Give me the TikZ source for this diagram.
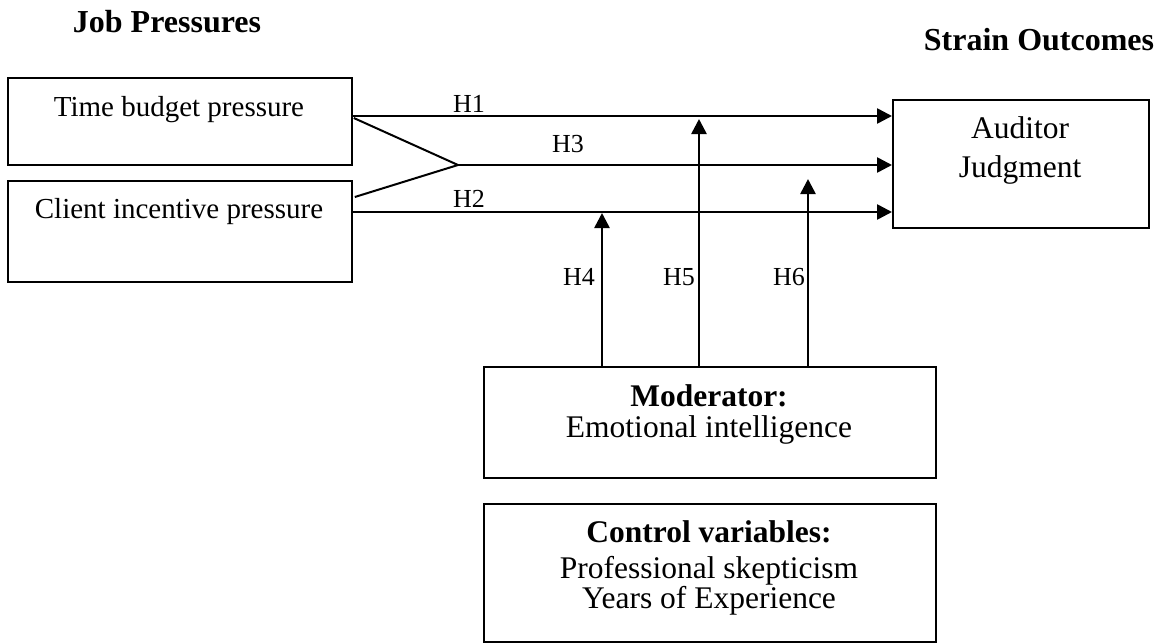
\documentclass[tikz,border=0pt]{standalone}
\usepackage{fontspec}
\setmainfont{Liberation Serif}
\usetikzlibrary{arrows.meta,calc}
\begin{document}
\begin{tikzpicture}[x=1pt,y=-1pt,
  box/.style={draw, line width=1.8pt, inner sep=0pt, anchor=north west},
  conn/.style={line width=2.6pt, -{Triangle[length=15pt,width=15pt]}},
  plain/.style={line width=2pt},
  lbl/.style={inner sep=0pt, anchor=base, font=\fontsize{26}{30}\selectfont},
  txtA/.style={inner sep=0pt, anchor=base, font=\fontsize{29}{33}\selectfont},
  txtB/.style={inner sep=0pt, anchor=base, font=\fontsize{31.5}{36}\selectfont},
  head/.style={inner sep=0pt, anchor=base, font=\bfseries\fontsize{32}{36}\selectfont},
]
\useasboundingbox (0,0) rectangle (1160,643);

% boxes
\node[box, minimum width=344pt, minimum height=87pt]  (tbp) at (7,77) {};
\node[box, minimum width=344pt, minimum height=101pt] (cip) at (7,180) {};
\node[box, minimum width=256pt, minimum height=128pt] (aj)  at (892,99) {};
\node[box, minimum width=452pt, minimum height=111pt] (mod) at (483,366) {};
\node[box, minimum width=452pt, minimum height=138pt] (ctl) at (483,503) {};

% texts
\node[head] (hjob) at (167,32) {Job Pressures};
\node[head] (hstr) at (1039,50) {Strain Outcomes};
\node[txtA] (ttbp) at (179,116) {Time budget pressure};
\node[txtA] (tcip) at (179,218) {Client incentive pressure};
\node[txtB] (taj1) at (1020,138) {Auditor};
\node[txtB] (taj2) at (1020,177) {Judgment};
\node[txtB, font=\bfseries\fontsize{31.5}{36}\selectfont] (tmod1) at (709,406) {Moderator:};
\node[txtB] (tmod2) at (709,437) {Emotional intelligence};
\node[txtB, font=\bfseries\fontsize{31.5}{36}\selectfont] (tctl1) at (709,542) {Control variables:};
\node[txtB] (tctl2) at (709,578) {Professional skepticism};
\node[txtB] (tctl3) at (709,608) {Years of Experience};

% hypothesis labels
\node[lbl] (h1) at (469,112) {H1};
\node[lbl] (h3) at (568,152) {H3};
\node[lbl] (h2) at (469,207) {H2};
\node[lbl] (h4) at (579,285) {H4};
\node[lbl] (h5) at (679,285) {H5};
\node[lbl] (h6) at (789,285) {H6};

% connectors
\coordinate (apex) at (458,165);
\draw[plain] ($(tbp.north east)+(1,41)$) -- (apex) -- ($(cip.north east)+(2,17)$);
\draw[conn] ($(tbp.north east)+(0,39)$) -- ($(aj.north west)+(0,17)$);
\draw[conn] (apex) -- (aj.west |- apex);
\draw[conn] ($(cip.north east)+(0,32)$) -- ($(aj.north west)+(0,113)$);

\coordinate (t4) at (602,213);
\coordinate (t5) at (699,119);
\coordinate (t6) at (808,179);
\draw[conn] (mod.north west -| t4) -- (t4);
\draw[conn] (mod.north west -| t5) -- (t5);
\draw[conn] (mod.north west -| t6) -- (t6);
\end{tikzpicture}
\end{document}
